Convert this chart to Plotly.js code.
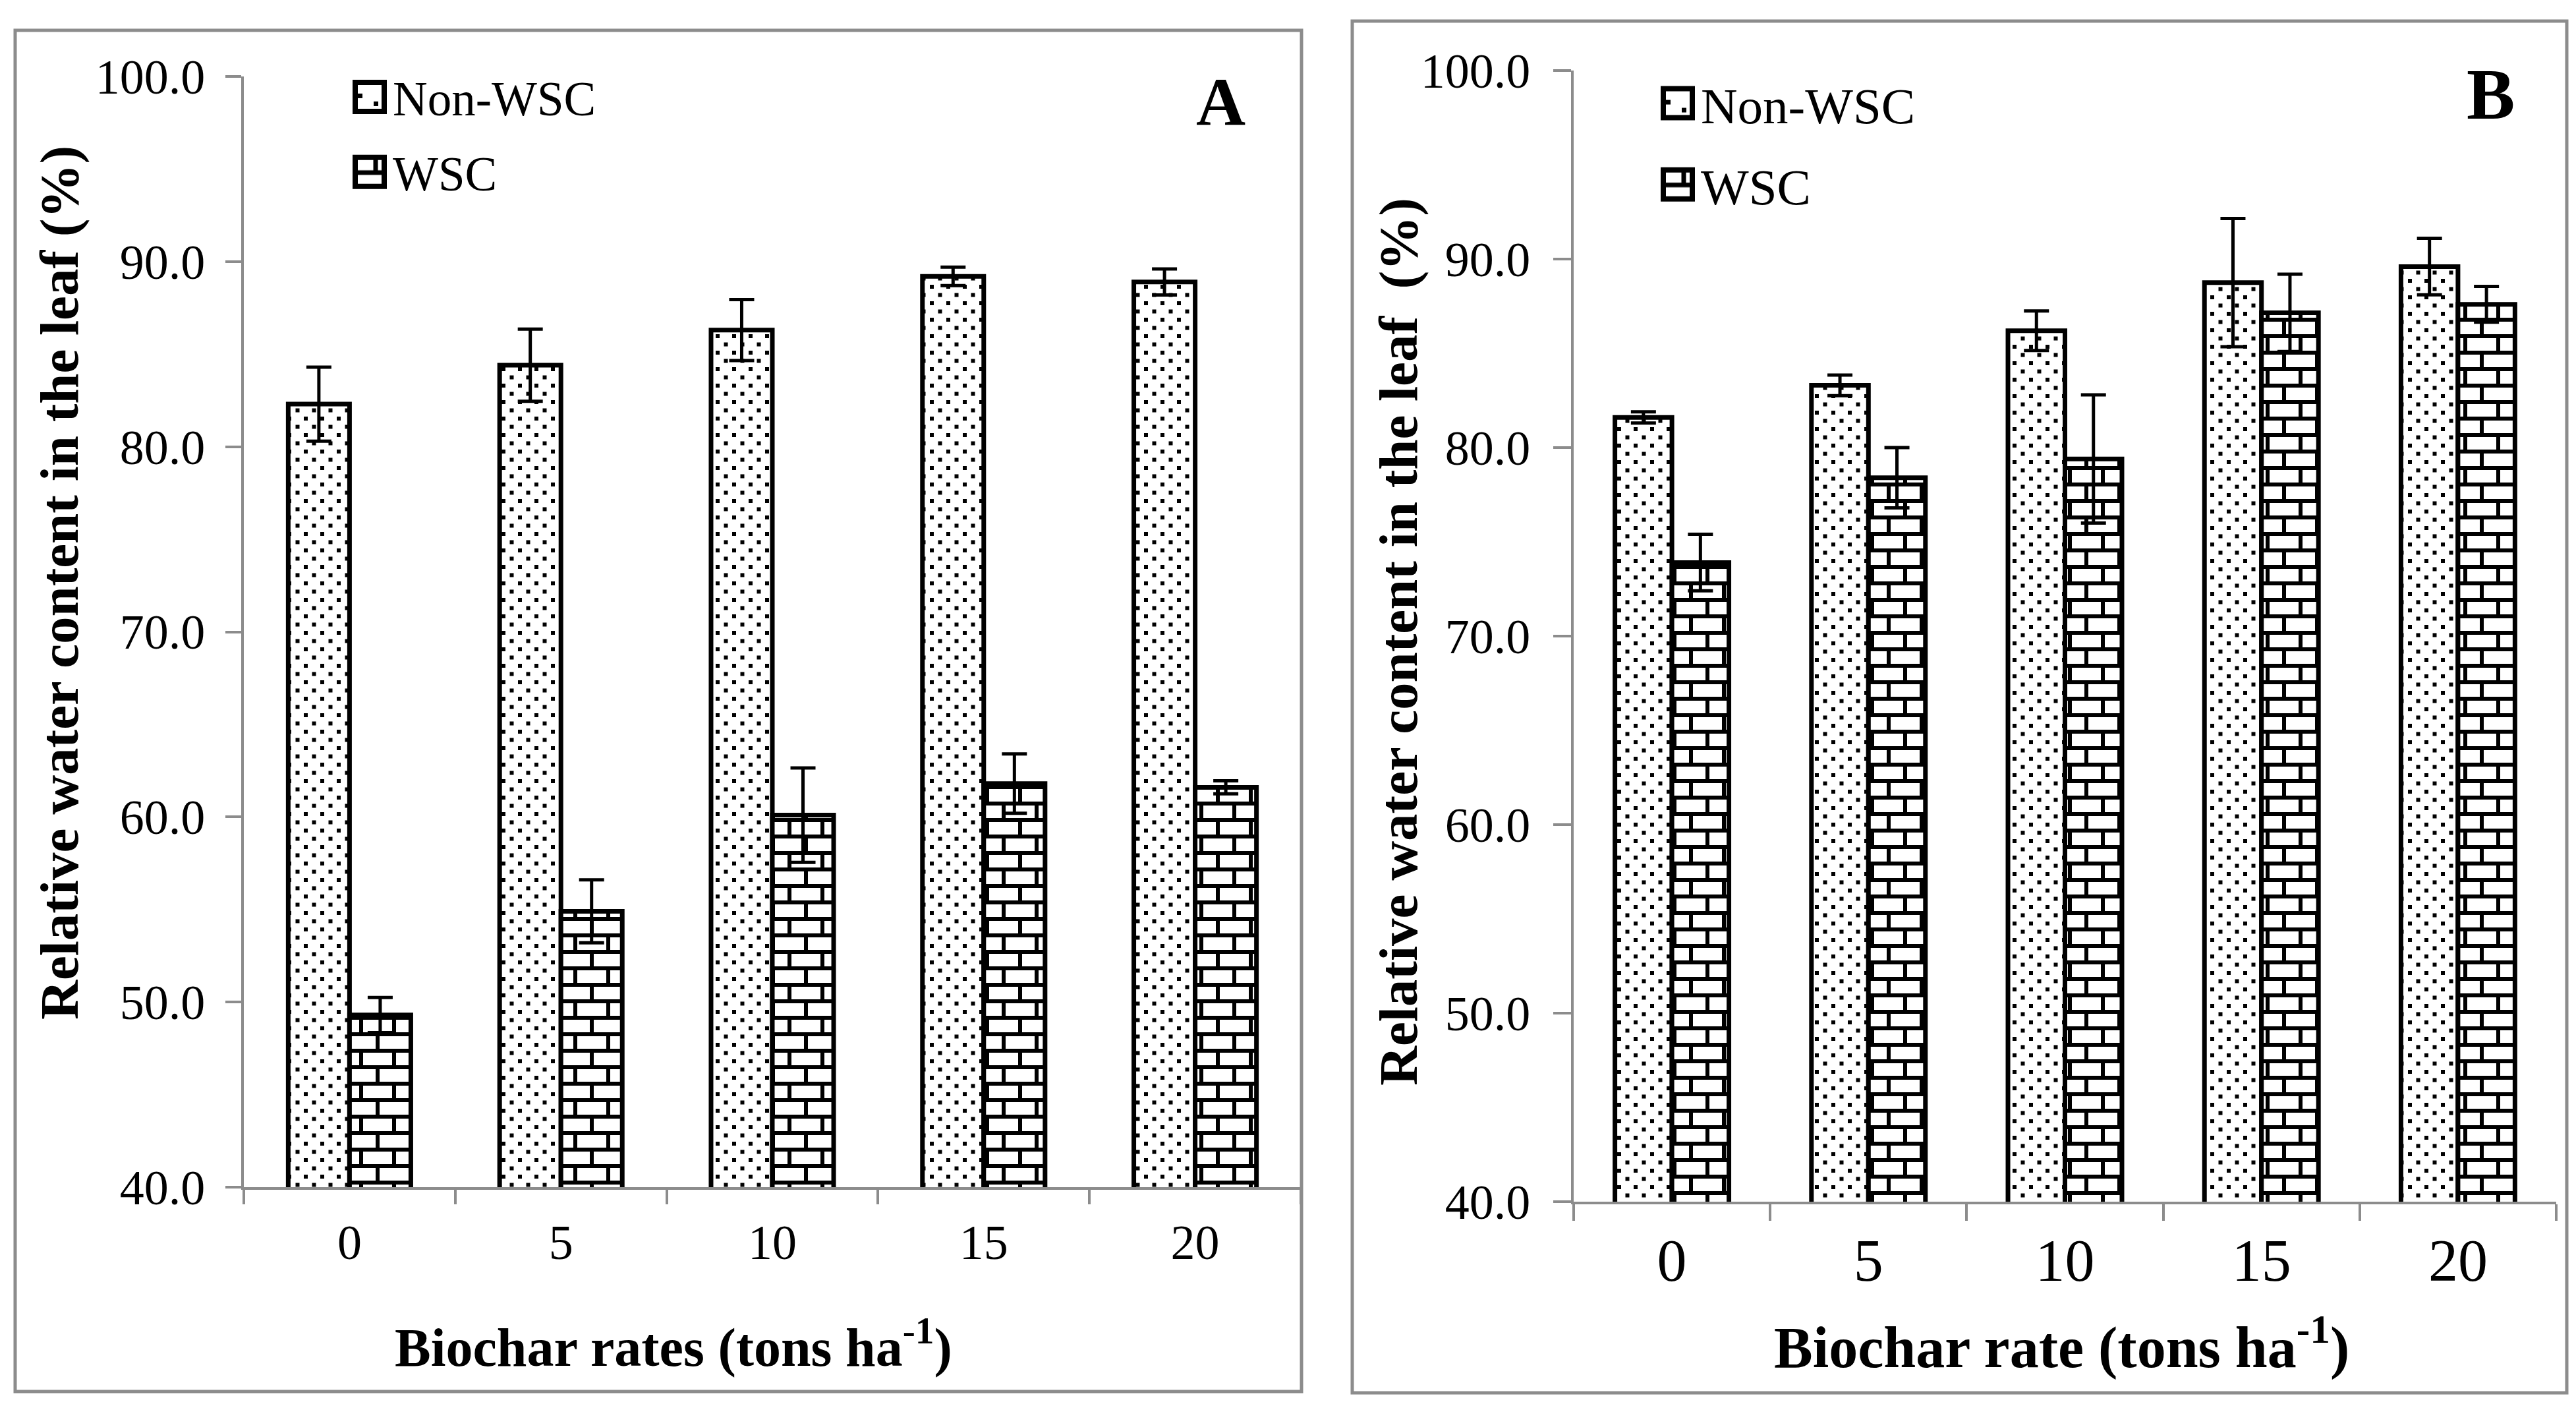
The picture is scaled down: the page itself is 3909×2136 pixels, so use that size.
<!DOCTYPE html>
<html>
<head>
<meta charset="utf-8">
<script src="https://cdn.plot.ly/plotly-3.0.1.min.js"></script>
<style>
  html, body { margin: 0; padding: 0; background: #fff; }
  #plot { width: 3909px; height: 2136px; }
</style>
</head>
<body>
<div id="plot"></div>
<script>
// Relative water content, two panels (A, B), Non-WSC vs WSC.

const rates = ["0", "5", "10", "15", "20"];

// Panel A
const aNonWsc    = [82.3, 84.4, 86.3, 89.2, 88.9];
const aNonWscErr = [2.0, 1.95, 1.65, 0.5, 0.7];
const aWsc       = [49.3, 54.9, 60.1, 61.8, 61.6];
const aWscErr    = [0.95, 1.7, 2.55, 1.6, 0.35];

// Panel B
const bNonWsc    = [81.6, 83.3, 86.2, 88.75, 89.6];
const bNonWscErr = [0.3, 0.55, 1.05, 3.4, 1.5];
const bWsc       = [73.9, 78.4, 79.4, 87.15, 87.6];
const bWscErr    = [1.5, 1.6, 3.4, 2.05, 0.95];

const yTickFormat = ".1f";

(function () {
  "use strict";

  const W = 3909, H = 2136;
  const px = (x) => x / W;
  const py = (y) => 1 - y / H;
  const SERIF = "Liberation Serif, Times New Roman, serif";
  const GREY = "#8c8c8c";

  const PATTERNS = {
    dots:  { shape: ".", size: 25, solidity: 0.06, fgcolor: "black", bgcolor: "white" },
    brick: { shape: "+", size: 50, solidity: 0.12, fgcolor: "black", bgcolor: "white" },
  };

  function barTrace(name, y, err, xa, ya, pat, legend, group) {
    return {
      type: "bar", name, x: rates, y,
      xaxis: xa, yaxis: ya, legend, legendgroup: group,
      marker: { color: "white", line: { color: "black", width: 7 }, pattern: PATTERNS[pat] },
      error_y: { type: "data", array: err, visible: true, color: "black", thickness: 5, width: 19 },
      hoverinfo: "x+y",
    };
  }

  const traces = [
    barTrace("Non-WSC", aNonWsc, aNonWscErr, "x", "y", "dots", "legend", "a1"),
    barTrace("WSC", aWsc, aWscErr, "x", "y", "brick", "legend", "a2"),
    barTrace("Non-WSC", bNonWsc, bNonWscErr, "x2", "y2", "dots", "legend2", "b1"),
    barTrace("WSC", bWsc, bWscErr, "x2", "y2", "brick", "legend2", "b2"),
  ];

  function xAxis(domain, anchor, ticklen, fontSize, standoff) {
    return {
      domain, anchor, type: "category",
      showline: true, linecolor: GREY, linewidth: 4,
      ticks: "outside", tickson: "boundaries", ticklen, tickwidth: 4, tickcolor: GREY,
      tickfont: { family: SERIF, size: fontSize, color: "black" },
      ticklabelstandoff: standoff,
      showgrid: false, zeroline: false, fixedrange: true,
    };
  }
  function yAxis(domain, anchor, ticklen, standoff) {
    return {
      domain, anchor, range: [40, 100], dtick: 10, tickformat: yTickFormat,
      showline: true, linecolor: GREY, linewidth: 4,
      ticks: "outside", ticklen, tickwidth: 4, tickcolor: GREY,
      tickfont: { family: SERIF, size: 74, color: "black" },
      ticklabelstandoff: standoff,
      showgrid: false, zeroline: false, fixedrange: true,
    };
  }

  const bold = (size) => ({ family: SERIF, size, color: "black", weight: "bold" });
  const legendBase = (x, y, size, gap) => ({
    x, y, xanchor: "left", yanchor: "top",
    font: { family: SERIF, size, color: "black" },
    itemwidth: 60, tracegroupgap: gap,
    bgcolor: "rgba(0,0,0,0)", borderwidth: 0,
  });
  const note = (text, x, y, font, angle) => ({
    text, x: px(x), y: py(y), xref: "paper", yref: "paper",
    xanchor: "center", yanchor: "middle", showarrow: false,
    textangle: angle || 0, font,
  });

  const layout = {
    width: W, height: H,
    margin: { l: 0, r: 0, t: 0, b: 0 },
    paper_bgcolor: "#fff", plot_bgcolor: "#fff",
    barmode: "group", bargap: 0.42, bargroupgap: 0,
    showlegend: true,
    xaxis:  xAxis([px(370), px(1974)], "y", 22, 74, 16),
    yaxis:  yAxis([py(1801), py(116)], "x", 24, 16),
    xaxis2: xAxis([px(2388), px(3879)], "y2", 25, 90, 8),
    yaxis2: yAxis([py(1823), py(107)], "x2", 27, 20),
    legend:  legendBase(px(526), py(93), 73, 16),
    legend2: legendBase(px(2511), py(100), 77, 20),
    shapes: [
      { type: "rect", xref: "paper", yref: "paper", x0: px(23), x1: px(1975), y0: py(46), y1: py(2111),
        line: { color: GREY, width: 5 }, fillcolor: "rgba(0,0,0,0)", layer: "below" },
      { type: "rect", xref: "paper", yref: "paper", x0: px(2052), x1: px(3895), y0: py(32), y1: py(2113),
        line: { color: GREY, width: 5 }, fillcolor: "rgba(0,0,0,0)", layer: "below" },
    ],
    annotations: [
      note("Relative water content in the leaf (%)", 90, 884, bold(83), -90),
      note("Relative water content in the leaf  (%)", 2122, 974, bold(83), -90),
      note("Biochar rates (tons ha<sup>-1</sup>)", 1022, 2038, bold(82)),
      note("Biochar rate (tons ha<sup>-1</sup>)", 3128, 2037, bold(88)),
      note("A", 1852, 155, bold(104)),
      note("B", 3779, 143, bold(110)),
    ],
  };

  const NS = "http://www.w3.org/2000/svg";
  function svgEl(tag, attrs) {
    const el = document.createElementNS(NS, tag);
    Object.keys(attrs).forEach((k) => el.setAttribute(k, attrs[k]));
    return el;
  }

  // Plotly has no brick fill and only square dot grids: reshape the
  // generated pattern tiles after drawing, and redo the legend keys.
  function reworkPatterns(gd) {
    let defsHost = null;
    gd.querySelectorAll("pattern").forEach((pat) => {
      defsHost = defsHost || pat.parentNode;
      const dot = pat.querySelector("circle");
      const line = pat.querySelector("path");
      if (dot) {
        dot.remove();
        [[3.5, 3.5], [16, 16]].forEach(([x, y]) => {
          pat.appendChild(svgEl("rect", { x, y, width: 6, height: 6, fill: "black" }));
        });
      } else if (line) {
        line.setAttribute("d", "M0,3H50M0,28H50M3,3V28M28,28V50M28,0V3");
        line.setAttribute("stroke-width", "6px");
        line.style.strokeWidth = "6px";
      }
    });
    if (!defsHost) return;

    // key tiles: one square, a couple of dots / one brick joint
    const keyDots = svgEl("pattern", { id: "key-dots", patternUnits: "userSpaceOnUse",
      x: -22, y: -22, width: 44, height: 44 });
    keyDots.appendChild(svgEl("rect", { width: 44, height: 44, fill: "white" }));
    keyDots.appendChild(svgEl("rect", { x: 4, y: 17, width: 7, height: 7, fill: "black" }));
    keyDots.appendChild(svgEl("rect", { x: 28, y: 29, width: 7, height: 7, fill: "black" }));
    const keyBrick = svgEl("pattern", { id: "key-brick", patternUnits: "userSpaceOnUse",
      x: -22, y: -22, width: 44, height: 44 });
    keyBrick.appendChild(svgEl("rect", { width: 44, height: 44, fill: "white" }));
    keyBrick.appendChild(svgEl("path", { d: "M0,23H44M31,0V23", stroke: "black",
      "stroke-width": 7, fill: "none" }));
    defsHost.appendChild(keyDots);
    defsHost.appendChild(keyBrick);

    const seen = new Map();
    gd.querySelectorAll("g.legendpoints path").forEach((p) => {
      const item = p.closest("g.traces");
      const root = p.closest("g.scrollbox") || (item && item.parentNode);
      const order = seen.get(root) || 0;
      seen.set(root, order + 1);
      let isBrick = order % 2 === 1;
      const d = item && item.__data__;
      const tr = d && d[0] && d[0].trace;
      if (tr && tr.marker && tr.marker.pattern) isBrick = tr.marker.pattern.shape === "+";
      p.setAttribute("d", "M22,22H-22V-22H22Z");
      p.style.setProperty("stroke-width", "8px");
      p.style.setProperty("stroke", "black");
      p.style.setProperty("fill", isBrick ? "url(#key-brick)" : "url(#key-dots)");
    });
  }

  Plotly.newPlot("plot", traces, layout, { displayModeBar: false, responsive: false })
    .then((gd) => {
      reworkPatterns(gd);
    });
})();
</script>
</body>
</html>
